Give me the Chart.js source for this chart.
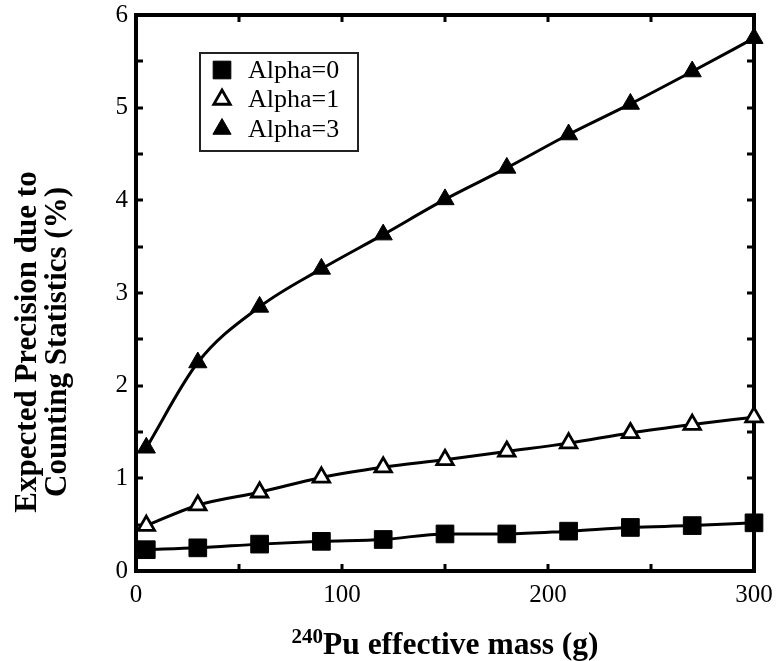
<!DOCTYPE html>
<html><head><meta charset="utf-8">
<script src="https://cdn.jsdelivr.net/npm/chart.js@4/dist/chart.umd.min.js"></script>
<style>html,body{margin:0;padding:0;background:#fff;}#wrap{width:782px;height:661px;}</style>
</head><body><div id="wrap"><canvas id="c" width="782" height="661"></canvas></div>
<script>
const massValues = [5, 30, 60, 90, 120, 150, 180, 210, 240, 270, 300];
const alpha0 = [0.23, 0.25, 0.29, 0.32, 0.34, 0.40, 0.40, 0.43, 0.47, 0.49, 0.52];
const alpha1 = [0.49, 0.71, 0.85, 1.01, 1.12, 1.20, 1.29, 1.38, 1.49, 1.58, 1.66];
const alpha3 = [1.33, 2.25, 2.85, 3.26, 3.63, 4.01, 4.35, 4.71, 5.04, 5.39, 5.75];
const seriesLabels = ['Alpha=0', 'Alpha=1', 'Alpha=3'];
const xTicks = [0, 100, 200, 300];
const yTicks = [0, 1, 2, 3, 4, 5, 6];
const xTitleSup = '240';
const xTitleMain = 'Pu effective mass (g)';
const yTitleLines = ['Expected Precision due to', 'Counting Statistics (%)'];

const SERIF = '"Liberation Serif", "Times New Roman", serif';
const toPts = arr => massValues.map((x, i) => ({x: x, y: arr[i]}));

const styles = [
  {pointStyle: 'rect', radius: 12.5, bg: '#000', bw: 1},
  {pointStyle: 'triangle', radius: 9.5, bg: '#fff', bw: 2.8},
  {pointStyle: 'triangle', radius: 10.5, bg: '#000', bw: 1}
];
const seriesData = [alpha0, alpha1, alpha3];

const datasets = seriesData.map((arr, i) => ({
  label: seriesLabels[i],
  data: toPts(arr),
  showLine: true,
  borderColor: '#000',
  borderWidth: 3,
  cubicInterpolationMode: 'monotone',
  pointStyle: styles[i].pointStyle,
  pointRadius: styles[i].radius,
  pointBackgroundColor: styles[i].bg,
  pointBorderColor: '#000',
  pointBorderWidth: styles[i].bw,
  clip: false
}));

const framePlugin = {
  id: 'frame',
  beforeDatasetsDraw(chart) {
    const {ctx, chartArea: a, scales} = chart;
    const xs = scales.x, ys = scales.y;
    ctx.save();
    ctx.strokeStyle = '#000';
    ctx.lineWidth = 3;
    const tl = 7;
    for (let i = 0; i < xTicks.length; i++) {
      const vals = [xTicks[i]];
      if (i < xTicks.length - 1) vals.push((xTicks[i] + xTicks[i + 1]) / 2);
      vals.forEach(v => {
        const px = Math.round(xs.getPixelForValue(v));
        ctx.beginPath();
        ctx.moveTo(px, a.bottom); ctx.lineTo(px, a.bottom - tl);
        ctx.moveTo(px, a.top); ctx.lineTo(px, a.top + tl);
        ctx.stroke();
      });
    }
    for (let i = 0; i < yTicks.length; i++) {
      const vals = [yTicks[i]];
      if (i < yTicks.length - 1) vals.push((yTicks[i] + yTicks[i + 1]) / 2);
      vals.forEach(v => {
        const py = Math.round(ys.getPixelForValue(v));
        ctx.beginPath();
        ctx.moveTo(a.left, py); ctx.lineTo(a.left + tl, py);
        ctx.moveTo(a.right, py); ctx.lineTo(a.right - tl, py);
        ctx.stroke();
      });
    }
    ctx.lineWidth = 4;
    ctx.strokeRect(a.left, a.top, a.right - a.left, a.bottom - a.top);
    ctx.restore();
  },
  afterDraw(chart) {
    const {ctx, chartArea: a} = chart;
    ctx.save();
    const lx = a.left + 64, ly = a.top + 38, lw = 158, lh = 98;
    ctx.strokeStyle = '#222';
    ctx.lineWidth = 2;
    ctx.strokeRect(lx, ly, lw, lh);
    ctx.font = '26px ' + SERIF;
    ctx.textAlign = 'left';
    ctx.textBaseline = 'middle';
    chart.data.datasets.forEach((ds, i) => {
      const cy = ly + 17 + i * 29.5;
      ctx.fillStyle = ds.pointBackgroundColor;
      ctx.strokeStyle = '#000';
      ctx.lineWidth = ds.pointBorderWidth;
      Chart.helpers.drawPoint(ctx, {pointStyle: ds.pointStyle, radius: ds.pointRadius, rotation: 0, borderWidth: ds.pointBorderWidth}, lx + 22, cy);
      ctx.fillStyle = '#000';
      ctx.fillText(ds.label, lx + 48, cy + 1);
    });
    const cx = (a.left + a.right) / 2;
    ctx.font = 'bold 21px ' + SERIF;
    const wSup = ctx.measureText(xTitleSup).width;
    ctx.font = 'bold 31.5px ' + SERIF;
    const wMain = ctx.measureText(xTitleMain).width;
    const x0 = cx - (wSup + wMain) / 2;
    const base = 654;
    ctx.textBaseline = 'alphabetic';
    ctx.font = 'bold 21px ' + SERIF;
    ctx.fillText(xTitleSup, x0, base - 11);
    ctx.font = 'bold 31.5px ' + SERIF;
    ctx.fillText(xTitleMain, x0 + wSup, base);
    ctx.font = 'bold 31px ' + SERIF;
    ctx.textAlign = 'center';
    ctx.textBaseline = 'middle';
    const centersX = [28, 58];
    yTitleLines.forEach((t, i) => {
      ctx.save();
      ctx.translate(centersX[i], 342);
      ctx.rotate(-Math.PI / 2);
      ctx.fillText(t, 0, 0);
      ctx.restore();
    });
    ctx.restore();
  }
};

new Chart(document.getElementById('c'), {
  type: 'scatter',
  data: {datasets: datasets},
  options: {
    responsive: false,
    animation: false,
    devicePixelRatio: 1,
    layout: {padding: {left: 0, top: 15, right: 28, bottom: 0}},
    plugins: {legend: {display: false}, tooltip: {enabled: false}},
    scales: {
      x: {
        type: 'linear', min: 0, max: 300,
        afterBuildTicks: s => { s.ticks = xTicks.map(v => ({value: v})); },
        afterFit: s => { s.height = 90; s.paddingLeft = 0; s.paddingRight = 0; },
        grid: {display: false, drawTicks: false},
        border: {display: false},
        ticks: {color: '#000', font: {family: SERIF, size: 25}, padding: 9, maxRotation: 0}
      },
      y: {
        type: 'linear', min: 0, max: 6,
        afterBuildTicks: s => { s.ticks = yTicks.map(v => ({value: v})); },
        afterFit: s => { s.width = 136; s.paddingTop = 0; s.paddingBottom = 0; },
        grid: {display: false, drawTicks: false},
        border: {display: false},
        ticks: {color: '#000', font: {family: SERIF, size: 25}, padding: 8}
      }
    }
  },
  plugins: [framePlugin]
});
</script>
</body></html>
